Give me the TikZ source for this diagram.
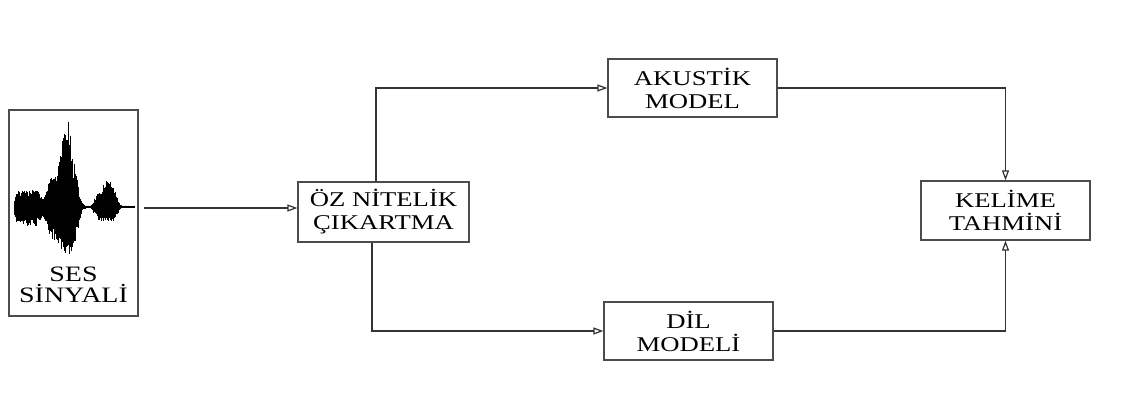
\documentclass[tikz,border=0pt]{standalone}
\usepackage{fontspec}
\setmainfont{Liberation Serif}[FakeStretch=1.27]
\usetikzlibrary{arrows.meta}
\begin{document}
\begin{tikzpicture}[x=1pt,y=-1pt,
  box/.style={draw=black!70,line width=1.3pt,rectangle,inner sep=0pt,align=center,
    font=\fontsize{21}{23}\selectfont},
  conn/.style={draw=black!80,line width=1.2pt,-{Triangle[open,length=10pt,width=7pt]}}]
\useasboundingbox (0,0) rectangle (1135,410);
% nodes
\node[box,minimum width=129pt,minimum height=206pt] (ses) at (73.5,213) {};
\node[font=\fontsize{22}{21}\selectfont,align=center,inner sep=0pt] (sestxt) at (73.5,285) {SES\\SİNYALİ};
\node[box,minimum width=171pt,minimum height=60pt] (oz) at (383.5,212) {ÖZ NİTELİK\\ÇIKARTMA};
\node[box,minimum width=169pt,minimum height=58pt] (ak) at (692.5,88) {AKUSTİK\\MODEL};
\node[box,minimum width=169pt,minimum height=58pt] (dil) at (688.5,331) {DİL\\MODELİ};
\node[box,minimum width=169pt,minimum height=59pt] (kel) at (1005.5,210.5) {KELİME\\TAHMİNİ};
% waveform
\begin{scope}
\pgfmathsetseed{11}
\foreach \x in {14,14.35,...,135}{
  \pgfmathsetmacro\ta{min(8,(\x-28)*(\x-28)/196)}
  \pgfmathsetmacro\tb{min(8,(\x-62)*(\x-62)/289)}
  \pgfmathsetmacro\tc{(\x-67)*(\x-67)/49}
  \pgfmathsetmacro\td{min(8,(\x-106)*(\x-106)/144)}
  \pgfmathsetmacro\te{(\x-108)*(\x-108)/25}
  \pgfmathsetmacro\tf{(\x-68)*(\x-68)/64}
  \pgfmathsetmacro\u{1.5+16*exp(-\ta*\ta*\ta)+30*exp(-\tb*\tb*\tb)+55*exp(-min(40,\tc))+15*exp(-\td*\td*\td)+12*exp(-min(40,\te))}
  \pgfmathsetmacro\d{1.5+18*exp(-\ta*\ta*\ta)+32*exp(-\tb*\tb*\tb)+20*exp(-min(40,\tf))+13*exp(-\td*\td*\td)}
  \pgfmathsetmacro\ru{\u*(0.5+0.5*rnd)}
  \pgfmathsetmacro\rd{\d*(0.5+0.5*rnd)}
  \draw[line width=0.7pt,black] (\x,207-\ru) -- (\x,207+\rd);
}
\end{scope}
% connectors
\draw[conn] ([xshift=5pt,yshift=5pt]ses.east) -- ([yshift=4pt]oz.west);
\draw[conn] ([xshift=-7.5pt]oz.north) |- (ak.west);
\draw[conn] ([xshift=-11.5pt]oz.south) |- (dil.west);
\draw[conn] (ak.east) -| (kel.north);
\draw[conn] (dil.east) -| (kel.south);
\end{tikzpicture}
\end{document}
